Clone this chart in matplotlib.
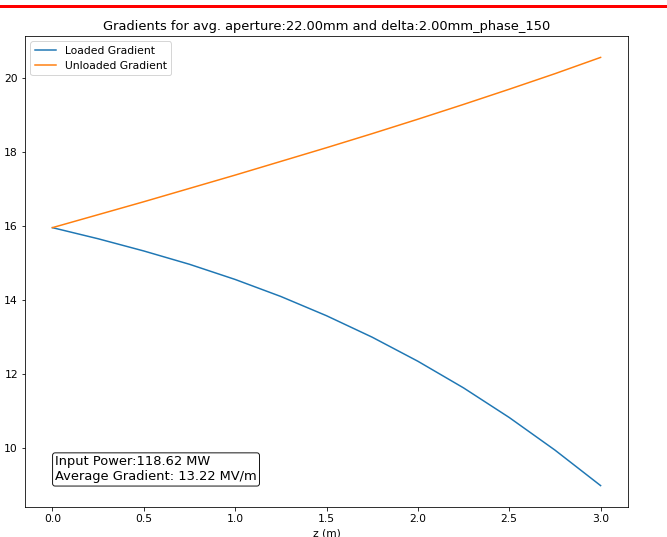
import matplotlib
matplotlib.use("Agg")
import matplotlib.pyplot as plt
from matplotlib.lines import Line2D

# Position along the structure (m)
z = [0.0, 0.25, 0.5, 0.75, 1.0, 1.25, 1.5, 1.75, 2.0, 2.25, 2.5, 2.75, 3.0]

# Gradient along the structure (MV/m)
loaded_gradient = [15.96, 15.66, 15.33, 14.97, 14.56, 14.10, 13.58, 13.00,
                   12.35, 11.63, 10.83, 9.95, 8.99]
unloaded_gradient = [15.96, 16.31, 16.66, 17.02, 17.38, 17.75, 18.12, 18.50,
                     18.89, 19.29, 19.70, 20.12, 20.56]

input_power = 118.62
average_gradient = 13.22

title = "Gradients for avg. aperture:22.00mm and delta:2.00mm_phase_150"

W, H, DPI = 667, 537, 72
fs = 10.8
plt.rcParams.update({"font.size": fs, "xtick.labelsize": fs, "ytick.labelsize": fs,
                     "legend.fontsize": fs})

fig = plt.figure(figsize=(W / DPI, H / DPI), dpi=DPI)
ax = fig.add_axes([25 / W, 1 - 507 / H, 603 / W, 471 / H])

ax.plot(z, loaded_gradient, label="Loaded Gradient")
ax.plot(z, unloaded_gradient, label="Unloaded Gradient")
ax.set_title(title, fontsize=13)
ax.set_xlabel("z (m)")
ax.legend(loc="upper left")
ax.text(0.05, 0.05,
        f"Input Power:{input_power:.2f} MW\nAverage Gradient: {average_gradient:.2f} MV/m",
        transform=ax.transAxes, fontsize=13, va="bottom", ha="left",
        bbox=dict(boxstyle="round", facecolor="white", edgecolor="black", alpha=0.9, pad=0.2))

# red rule across the top of the figure
fig.add_artist(Line2D([0, 1], [1 - 5.5 / H, 1 - 5.5 / H], color="red", lw=3,
                      transform=fig.transFigure))

fig.savefig("out.png", dpi=DPI)
